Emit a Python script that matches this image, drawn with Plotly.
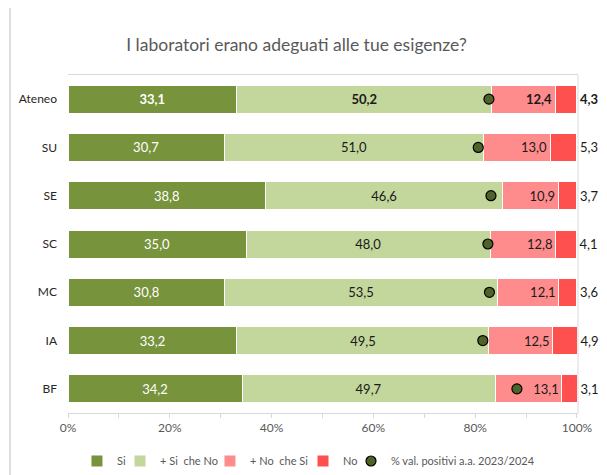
import plotly.graph_objects as go

categories = ["Ateneo", "SU", "SE", "SC", "MC", "IA", "BF"]
si = [33.1, 30.7, 38.8, 35.0, 30.8, 33.2, 34.2]
piu_si = [50.2, 51.0, 46.6, 48.0, 53.5, 49.5, 49.7]
piu_no = [12.4, 13.0, 10.9, 12.8, 12.1, 12.5, 13.1]
no = [4.3, 5.3, 3.7, 4.1, 3.6, 4.9, 3.1]
prev_pos = [82.7, 80.6, 83.1, 82.5, 82.8, 81.5, 88.2]

tick_values = [0, 20, 40, 60, 80, 100]
tick_labels = ["0%", "20%", "40%", "60%", "80%", "100%"]
minor_tick_values = [10, 30, 50, 70, 90]

series_names = ["Si", "+ Si  che No", "+ No  che Si", "No"]
marker_name = "% val. positivi a.a. 2023/2024"
colors = ["#77933C", "#C3D69B", "#FF8C8C", "#FF5050"]
text_colors = ["white", "#1a1a1a", "#1a1a1a", "#1a1a1a"]
text_anchor = ["middle", "middle", "end", "middle"]

FONT = "Lato, 'Open Sans', sans-serif"

# one legend per entry so the row stays compact like the reference
legend_ids = ["legend", "legend2", "legend3", "legend4", "legend5"]
legend_x = [0.0176, 0.102, 0.2784, 0.4608, 0.5549]


def fmt(vals):
    out = []
    for c, v in zip(categories, vals):
        s = f"{v:.1f}".replace(".", ",")
        out.append(f"<b>{s}</b>" if c == "Ateneo" else s)
    return out


fig = go.Figure()
for i, (name, vals) in enumerate(zip(series_names, [si, piu_si, piu_no, no])):
    fig.add_trace(go.Bar(
        y=categories, x=vals, name=name, orientation="h",
        marker=dict(color=colors[i], line=dict(color="white", width=1)),
        text=fmt(vals),
        textposition="outside" if i == 3 else "inside",
        insidetextanchor=text_anchor[i],
        textangle=0,
        textfont=dict(color=text_colors[i], size=13, family=FONT),
        cliponaxis=False,
        hoverinfo="skip",
        legend=legend_ids[i],
    ))

fig.add_trace(go.Scatter(
    y=categories, x=prev_pos, mode="markers", name=marker_name,
    marker=dict(color="#4F6228", size=10, line=dict(color="black", width=1.2)),
    hoverinfo="skip",
    legend=legend_ids[4],
))

legend_common = dict(orientation="h", y=-0.142, yanchor="middle", xanchor="left",
                     font=dict(size=11, color="#595959", family=FONT),
                     itemwidth=30, bgcolor="rgba(0,0,0,0)", borderwidth=0)

layout_legends = {lid: dict(x=lx, **legend_common) for lid, lx in zip(legend_ids, legend_x)}

# the page body has an 8px margin, so the figure is sized/offset to compensate
fig.update_layout(
    width=599, height=467,
    barmode="stack", bargap=0.42,
    margin=dict(l=60, r=29, t=67, b=62, autoexpand=False),
    paper_bgcolor="white", plot_bgcolor="white",
    font=dict(family=FONT, color="#1a1a1a", size=12),
    title=dict(text="I laboratori erano adeguati alle tue esigenze?",
               x=0.4816, xanchor="center", y=0.9208, yanchor="middle",
               font=dict(size=17.5, color="#595959", family=FONT)),
    showlegend=True,
    **layout_legends,
)

fig.update_xaxes(
    range=[0, 100.2], tickmode="array", tickvals=tick_values, ticktext=tick_labels,
    showgrid=False, zeroline=False,
    showline=True, linecolor="#D9D9D9", linewidth=1, mirror=True,
    ticks="outside", ticklen=4, tickcolor="#D9D9D9",
    minor=dict(tickvals=minor_tick_values, ticks="outside", ticklen=4, tickcolor="#D9D9D9"),
    tickfont=dict(size=12, color="#595959", family=FONT),
    automargin=False,
)
fig.update_yaxes(
    categoryorder="array", categoryarray=categories[::-1],
    showgrid=False, zeroline=False, showline=False, ticks="",
    ticklabelstandoff=10,
    tickfont=dict(size=12, color="#262626", family=FONT),
    automargin=False,
)

# right border of plot area and outer chart frame on the left
fig.add_shape(type="line", xref="paper", yref="paper", x0=1, x1=1, y0=0, y1=1,
              line=dict(color="#D9D9D9", width=1), layer="above")
fig.add_shape(type="line", xref="paper", yref="paper", x0=-0.1137, x1=-0.1137, y0=-0.25, y1=1.25,
              line=dict(color="#BFBFBF", width=1))

fig.write_html("out.html")
